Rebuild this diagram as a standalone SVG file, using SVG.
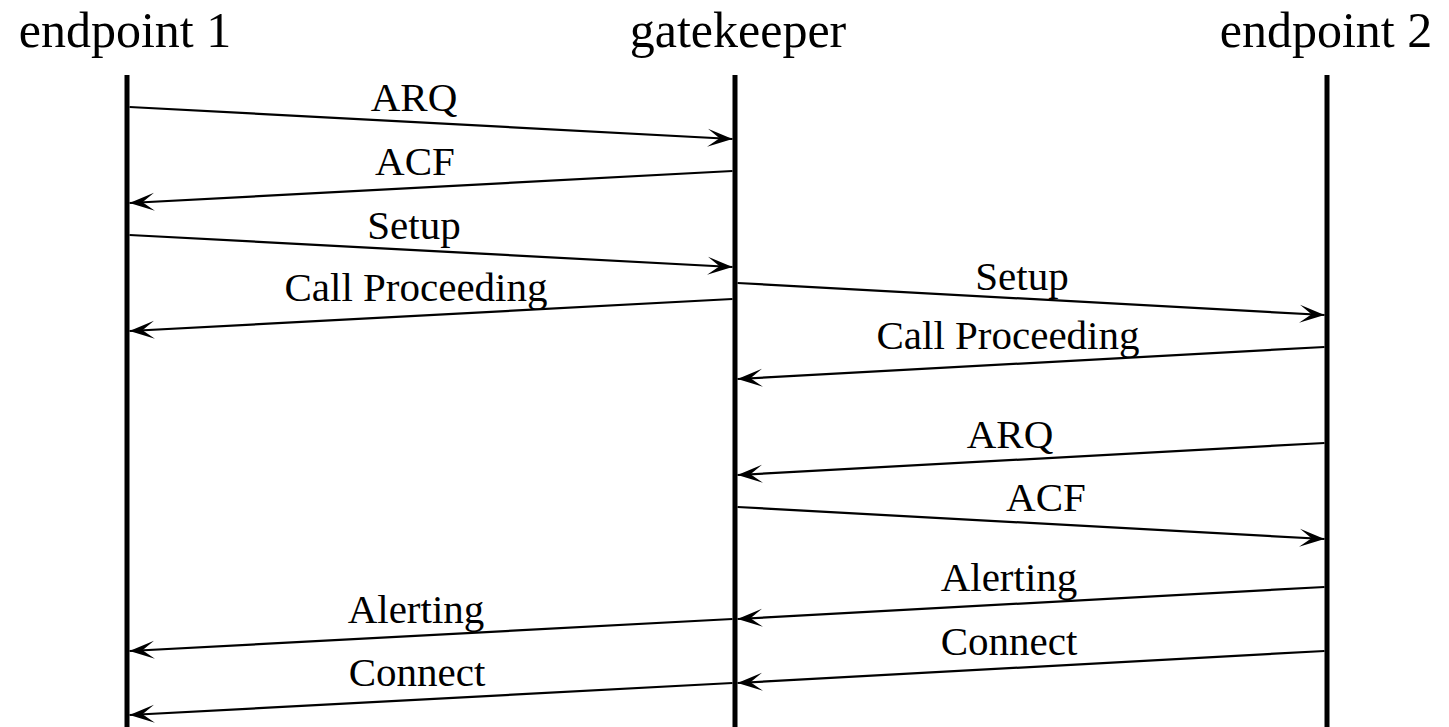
<svg xmlns="http://www.w3.org/2000/svg" width="1449" height="727" viewBox="0 0 1449 727">
  <style>
    .head { font-family: "Liberation Serif", "Times New Roman", serif; font-size: 50px; fill: #000; text-anchor: middle; }
    .lbl { font-family: "Liberation Serif", "Times New Roman", serif; font-size: 41px; fill: #000; text-anchor: middle; }
    .life { stroke: #000; stroke-width: 5; fill: none; }
    .msg { stroke: #000; stroke-width: 2.2; fill: none; marker-end: url(#arrow); }
  </style>
  <defs>
    <marker id="arrow" markerUnits="userSpaceOnUse" viewBox="-26 -10 27 20" refX="0" refY="0" markerWidth="27" markerHeight="20" orient="auto">
      <path d="M0,0 L-25,-9 L-13,0 L-25,9 Z" fill="#000"/>
    </marker>
  </defs>
  <rect width="1449" height="727" fill="#fff"/>

  <!-- participants with their lifelines -->
  <g id="endpoint1">
    <text class="head" x="125" y="47">endpoint 1</text>
    <line class="life" x1="127" y1="75" x2="127" y2="727"/>
  </g>
  <g id="gatekeeper">
    <text class="head" x="738" y="47">gatekeeper</text>
    <line class="life" x1="735" y1="75" x2="735" y2="727"/>
  </g>
  <g id="endpoint2">
    <text class="head" x="1326" y="47">endpoint 2</text>
    <line class="life" x1="1327" y1="75" x2="1327" y2="727"/>
  </g>

  <!-- messages -->
  <g id="messages">
    <line class="msg" x1="129.5" y1="107" x2="732.5" y2="139"/>
    <text class="lbl" x="414" y="111">ARQ</text>

    <line class="msg" x1="732.5" y1="171" x2="129.5" y2="203"/>
    <text class="lbl" x="415" y="175">ACF</text>

    <line class="msg" x1="129.5" y1="235" x2="732.5" y2="267"/>
    <text class="lbl" x="414" y="239">Setup</text>

    <line class="msg" x1="732.5" y1="299" x2="129.5" y2="331"/>
    <text class="lbl" x="416" y="301">Call Proceeding</text>

    <line class="msg" x1="737.5" y1="283" x2="1324.5" y2="315"/>
    <text class="lbl" x="1022" y="290">Setup</text>

    <line class="msg" x1="1324.5" y1="347" x2="737.5" y2="379"/>
    <text class="lbl" x="1008" y="349">Call Proceeding</text>

    <line class="msg" x1="1324.5" y1="443" x2="737.5" y2="475"/>
    <text class="lbl" x="1010" y="448">ARQ</text>

    <line class="msg" x1="737.5" y1="507" x2="1324.5" y2="539"/>
    <text class="lbl" x="1046" y="511">ACF</text>

    <line class="msg" x1="1324.5" y1="587" x2="737.5" y2="619"/>
    <text class="lbl" x="1009" y="591">Alerting</text>

    <line class="msg" x1="1324.5" y1="651" x2="737.5" y2="683"/>
    <text class="lbl" x="1009" y="655">Connect</text>

    <line class="msg" x1="732.5" y1="619" x2="129.5" y2="651"/>
    <text class="lbl" x="416" y="623">Alerting</text>

    <line class="msg" x1="732.5" y1="683" x2="129.5" y2="715"/>
    <text class="lbl" x="417" y="686">Connect</text>
  </g>
</svg>
